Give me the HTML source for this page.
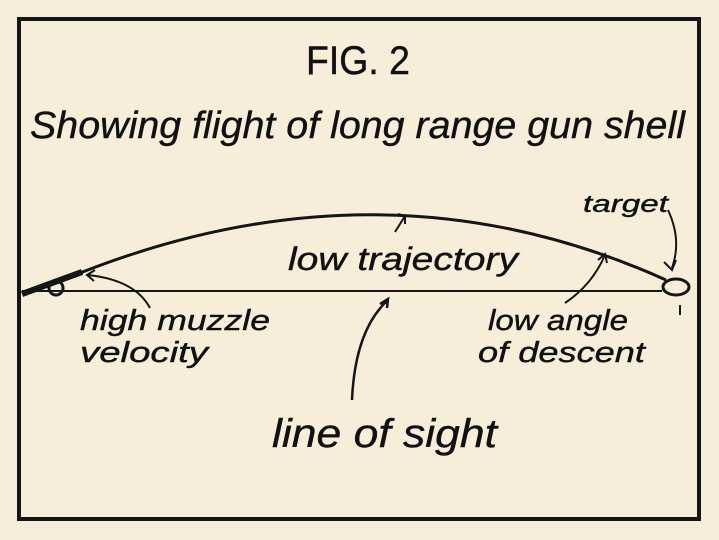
<!DOCTYPE html>
<html><head><meta charset="utf-8"><style>
html,body{margin:0;padding:0;background:#f6eed8;}
svg{display:block}
text{font-family:"Liberation Sans",sans-serif;font-style:italic;fill:#111;stroke:#111;stroke-width:0.4;}
</style></head><body>
<svg width="719" height="540" viewBox="0 0 719 540" xmlns="http://www.w3.org/2000/svg">
<rect width="719" height="540" fill="#f6eed8"/>
<rect x="19" y="19" width="680" height="500" fill="none" stroke="#151515" stroke-width="4"/>
<text x="306" y="74" font-size="40" textLength="104" lengthAdjust="spacingAndGlyphs" style="font-style:normal">FIG. 2</text>
<text x="30" y="138" font-size="38" textLength="655" lengthAdjust="spacingAndGlyphs">Showing flight of long range gun shell</text>
<line x1="22" y1="291" x2="662" y2="291" stroke="#151515" stroke-width="2"/>
<line x1="22" y1="294" x2="82" y2="272" stroke="#151515" stroke-width="6"/>
<circle cx="56" cy="288" r="7" fill="none" stroke="#151515" stroke-width="3"/>
<path d="M70 277 Q380 151 666 280" fill="none" stroke="#151515" stroke-width="3"/>
<ellipse cx="676" cy="287" rx="13" ry="8" fill="none" stroke="#151515" stroke-width="3"/>
<line x1="680" y1="305" x2="680" y2="315" stroke="#151515" stroke-width="2"/>
<text x="583" y="212" font-size="24" textLength="85" lengthAdjust="spacingAndGlyphs">target</text>
<path d="M668 210 Q682 240 672 268" fill="none" stroke="#151515" stroke-width="2"/>
<path d="M664 262 L672 270 L676 260" fill="none" stroke="#151515" stroke-width="2"/>
<text x="288" y="270" font-size="32" textLength="230" lengthAdjust="spacingAndGlyphs">low trajectory</text>
<path d="M395 232 L405 216 M398 214 L405 216 L405 224" fill="none" stroke="#151515" stroke-width="2"/>
<text x="80" y="330" font-size="29" textLength="190" lengthAdjust="spacingAndGlyphs">high muzzle</text>
<text x="80" y="362" font-size="29" textLength="128" lengthAdjust="spacingAndGlyphs">velocity</text>
<path d="M150 308 Q135 280 88 275 M95 270 L87 275 L94 281" fill="none" stroke="#151515" stroke-width="2"/>
<text x="488" y="330" font-size="29" textLength="140" lengthAdjust="spacingAndGlyphs">low angle</text>
<text x="478" y="362" font-size="29" textLength="167" lengthAdjust="spacingAndGlyphs">of descent</text>
<path d="M565 303 Q592 285 605 255 M598 260 L605 254 L607 263" fill="none" stroke="#151515" stroke-width="2"/>
<text x="272" y="447" font-size="40" textLength="225" lengthAdjust="spacingAndGlyphs">line of sight</text>
<path d="M352 400 Q355 330 388 300 M380 304 L388 299 L387 308" fill="none" stroke="#151515" stroke-width="2.5"/>
</svg>
</body></html>
